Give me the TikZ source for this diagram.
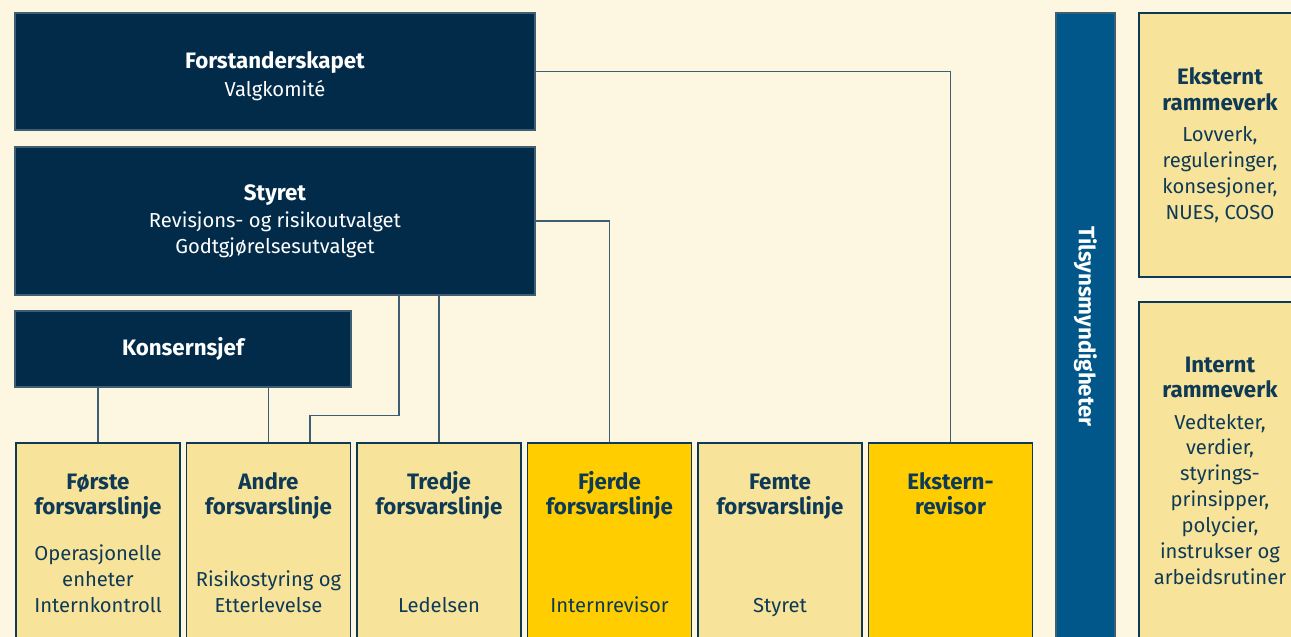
\documentclass[tikz,border=0pt]{standalone}
\usepackage{fontspec}
\setmainfont{Fira Sans}
\usetikzlibrary{positioning}
\definecolor{bakgrunn}{HTML}{FDF6E1}
\definecolor{marine}{HTML}{022B4A}
\definecolor{tilsynblaa}{HTML}{01578A}
\definecolor{lysgul}{HTML}{F8E39B}
\definecolor{gul}{HTML}{FFCD00}
\definecolor{tekst}{HTML}{0E3A55}
\definecolor{strek}{HTML}{3E5E74}
\newcommand{\tittel}[1]{{\fontsize{12.7}{14.7}\selectfont\bfseries #1}}
\tikzstyle{topbox} = [rectangle, minimum width=10.4cm, text centered, align=center, draw=strek, line width=0.6pt, fill=marine, text=white, font=\fontsize{11.5}{14.7}\selectfont]
\tikzstyle{linebox} = [rectangle, minimum width=3.28cm, minimum height=4.04cm, draw=tekst, line width=0.7pt, fill=lysgul]
\tikzstyle{gulbox} = [linebox, fill=gul]
\tikzstyle{rammebox} = [rectangle, minimum width=3.24cm, text centered, align=center, draw=tekst, line width=0.7pt, fill=lysgul, text=tekst, font=\fontsize{11.5}{14.7}\selectfont]
\tikzstyle{title} = [anchor=base, align=center, inner sep=0pt, text=tekst, font=\fontsize{12.7}{14.7}\selectfont\bfseries]
\tikzstyle{body} = [anchor=south, align=center, inner sep=0pt, text depth=0pt, text=tekst, font=\fontsize{11.5}{14.7}\selectfont]
\tikzstyle{conn} = [draw=strek, line width=0.7pt]

\begin{document}
\begin{tikzpicture}[node distance=3.41cm]
\useasboundingbox (0,0) rectangle (25.82,-12.74);
\clip (0,0) rectangle (25.82,-12.74);
\fill [bakgrunn] (0,0) rectangle (25.82,-12.74);

\node (forst) [topbox, minimum height=2.34cm] at (5.5,-1.43) {\rule{0pt}{15pt}\tittel{Forstanderskapet}\\[1pt]Valgkomité};
\node (styret) [topbox, minimum height=2.96cm] at (5.5,-4.42) {\tittel{Styret}\\[1pt]Revisjons- og risikoutvalget\\Godtgjørelsesutvalget};
\node (konsern) [topbox, minimum width=6.72cm, minimum height=1.52cm] at (3.66,-6.98) {\tittel{Konsernsjef}};

\node (forste) [linebox] at (1.96,-10.88) {};
\node (andre) [linebox, right of=forste] {};
\node (tredje) [linebox, right of=andre] {};
\node (fjerde) [gulbox, right of=tredje] {};
\node (femte) [linebox, right of=fjerde] {};
\node (ekst) [gulbox, right of=femte] {};

\node (forste-t) [title] at ([yshift=-1.45cm]forste.north) {Første\\forsvarslinje};
\node (andre-t) [title] at ([yshift=-1.45cm]andre.north) {Andre\\forsvarslinje};
\node (tredje-t) [title] at ([yshift=-1.45cm]tredje.north) {Tredje\\forsvarslinje};
\node (fjerde-t) [title] at ([yshift=-1.45cm]fjerde.north) {Fjerde\\forsvarslinje};
\node (femte-t) [title] at ([yshift=-1.45cm]femte.north) {Femte\\forsvarslinje};
\node (ekst-t) [title] at ([yshift=-1.45cm]ekst.north) {Ekstern-\\revisor};

\node (forste-b) [body] at ([yshift=0.66cm]forste.south) {Operasjonelle\\enheter\\Internkontroll};
\node (andre-b) [body] at ([yshift=0.66cm]andre.south) {Risikostyring og\\Etterlevelse};
\node (tredje-b) [body] at ([yshift=0.66cm]tredje.south) {Ledelsen};
\node (fjerde-b) [body] at ([yshift=0.66cm]fjerde.south) {Internrevisor};
\node (femte-b) [body] at ([yshift=0.66cm]femte.south) {Styret};

\node (tilsyn) [rectangle, rotate=-90, minimum width=12.54cm, minimum height=1.18cm, draw=strek, line width=0.6pt, fill=tilsynblaa, text=white, font=\fontsize{12.7}{14.7}\selectfont\bfseries] at (21.71,-6.53) {Tilsynsmyndigheter};

\node (ekstramme) [rammebox, minimum height=5.28cm] at (24.4,-2.9) {\tittel{Eksternt}\\\tittel{rammeverk}\\[3pt]Lovverk,\\reguleringer,\\konsesjoner,\\NUES, COSO};
\node (intramme) [rammebox, minimum height=6.74cm] at (24.4,-9.41) {\tittel{Internt}\\\tittel{rammeverk}\\[3pt]Vedtekter,\\verdier,\\styrings-\\prinsipper,\\polycier,\\instrukser og\\arbeidsrutiner};

\draw [conn] (forst.east) -| (ekst.north);
\draw [conn] (styret.east) -| (fjerde.north);
\draw [conn] (tredje.north) -- (tredje.north |- styret.south);
\draw [conn] ([xshift=2.48cm]styret.south) -- ++(0,-2.4) -| ([xshift=0.83cm]andre.north);
\draw [conn] (forste.north) -- (forste.north |- konsern.south);
\draw [conn] (andre.north) -- (andre.north |- konsern.south);
\end{tikzpicture}
\end{document}
